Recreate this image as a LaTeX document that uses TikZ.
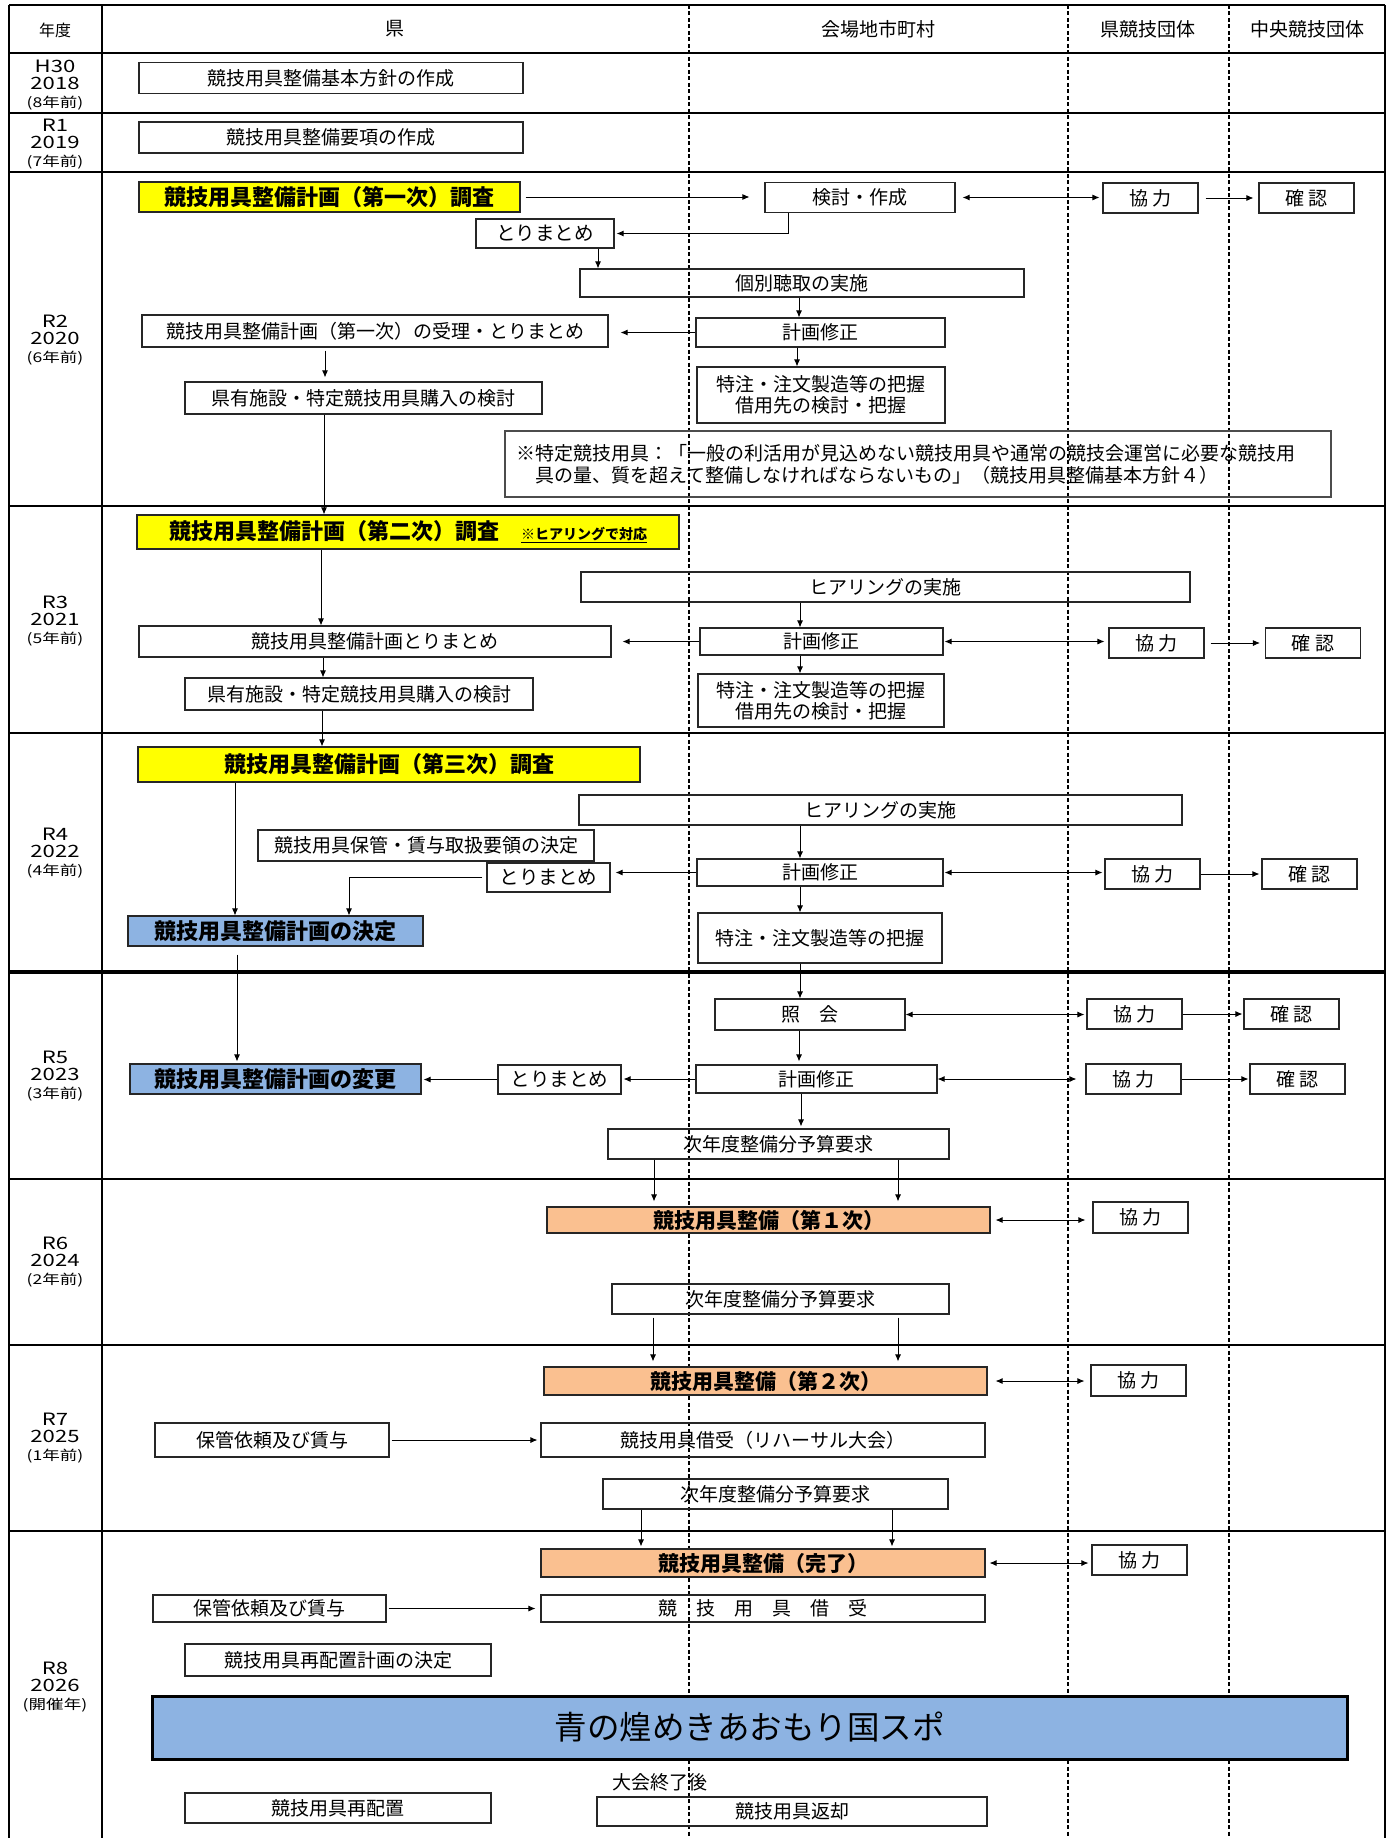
\documentclass[tikz,border=0pt]{standalone}
\usepackage{fontspec}
\setmainfont{Noto Sans CJK JP}
\usetikzlibrary{arrows.meta}
\definecolor{ylw}{HTML}{FFFF00}
\definecolor{blu}{HTML}{8DB3E2}
\definecolor{org}{HTML}{FAC090}
\newcommand\fN{\fontsize{19}{22}\selectfont}
\newcommand\fB{\fontsize{22}{26}\selectfont\bfseries}
\newcommand\fO{\fontsize{21}{25}\selectfont\bfseries}
\newcommand\fY{\fontsize{17}{17.5}\selectfont}
\newcommand\fP{\fontsize{13.5}{17.5}\selectfont}
\newcommand\yrlab[3]{\scalebox{1.3}[1]{\begin{tabular}{@{}c@{}}#1\\#2\\{\fP(#3)}\end{tabular}}}
\begin{document}
\begin{tikzpicture}[x=1pt,y=-1pt,
  box/.style={draw=black!85, line width=1.1pt, inner sep=0pt, font=\fN},
  ybox/.style={box, fill=ylw, font=\fB},
  bbox/.style={box, fill=blu, font=\fB},
  obox/.style={box, fill=org, font=\fO},
  yr/.style={font=\fY, inner sep=0pt},
  hd/.style={font=\fN, inner sep=0pt},
  frame/.style={line width=2.4pt},
  lane/.style={line width=1.3pt, dash pattern=on 4pt off 2.5pt},
  arr/.style={-{Latex[length=7pt,width=6pt]}, line width=0.9pt},
  darr/.style={{Latex[length=7pt,width=6pt]}-{Latex[length=7pt,width=6pt]}, line width=0.9pt},
  wh/.style 2 args={minimum width=#1, minimum height=#2}
]
\useasboundingbox (0,0) rectangle (1392,1838);
% grid
\foreach \xx in {689,1068,1229} \draw[lane] (\xx,5) -- (\xx,1838);
\foreach \yy/\lw in {5/2.4,53/2.4,113/2.4,172/2.4,506/2.4,733/2.4,972/3.4,1179/2.4,1345/2.4,1531/2.4}
  \draw[line width=\lw pt] (9,\yy) -- (1385,\yy);
\draw[frame] (9,5) -- (9,1838);
\draw[frame] (102,5) -- (102,1838);
\draw[frame] (1385,5) -- (1385,1838);
% headers
\node[hd, font=\fontsize{16}{18}\selectfont] (hy) at (55,30) {年度};
\node[hd] (hk) at (395,29) {県};
\node[hd] (hm) at (878,29) {会場地市町村};
\node[hd] (hp) at (1148,29) {県競技団体};
\node[hd] (hc) at (1307,29) {中央競技団体};
% year labels
\node[yr] (yr1) at (55,86) {\yrlab{H30}{2018}{8年前}};
\node[yr] (yr2) at (55,145) {\yrlab{R1}{2019}{7年前}};
\node[yr] (yr3) at (55,341) {\yrlab{R2}{2020}{6年前}};
\node[yr] (yr4) at (55,622) {\yrlab{R3}{2021}{5年前}};
\node[yr] (yr5) at (55,854) {\yrlab{R4}{2022}{4年前}};
\node[yr] (yr6) at (55,1077) {\yrlab{R5}{2023}{3年前}};
\node[yr] (yr7) at (55,1263) {\yrlab{R6}{2024}{2年前}};
\node[yr] (yr8) at (55,1439) {\yrlab{R7}{2025}{1年前}};
\node[yr] (yr9) at (55,1688) {\yrlab{R8}{2026}{開催年}};
% H30, R1
\node[box, wh={384pt}{31pt}] (n1) at (331,78) {競技用具整備基本方針の作成};
\node[box, wh={384pt}{31pt}] (n2) at (331,137.5) {競技用具整備要項の作成};
% R2
\node[ybox, wh={381pt}{30pt}] (y1) at (329.5,197) {競技用具整備計画（第一次）調査};
\node[box, wh={190pt}{30pt}] (k1) at (860,197.5) {検討・作成};
\node[box, wh={95pt}{30pt}] (kyo1) at (1150.5,198) {協 力};
\node[box, wh={95pt}{30pt}] (kak1) at (1306.5,198) {確 認};
\node[box, wh={138pt}{29pt}, font=\fontsize{19.5}{22}\selectfont] (tm1) at (545,233.5) {とりまとめ};
\node[box, wh={444pt}{28pt}] (kb) at (802,283) {個別聴取の実施};
\node[box, wh={466pt}{32pt}] (ju1) at (375,331) {競技用具整備計画（第一次）の受理・とりまとめ};
\node[box, wh={249pt}{29pt}] (ks1) at (820.5,332.5) {計画修正};
\node[box, wh={357pt}{32pt}] (ken1) at (363.5,398) {県有施設・特定競技用具購入の検討};
\node[box, wh={248pt}{56pt}, align=center, font=\fontsize{19}{21}\selectfont] (tc1) at (821,395) {特注・注文製造等の把握\\借用先の検討・把握};
\node[box, draw=black!70, wh={826pt}{66pt}, text width=804pt, align=left, font=\fontsize{19}{22}\selectfont] (note) at (918,464) {※特定競技用具：「一般の利活用が見込めない競技用具や通常の競技会運営に必要な競技用\\\hspace*{1em}具の量、質を超えて整備しなければならないもの」（競技用具整備基本方針４）};
% R3
\node[ybox, wh={542pt}{34pt}] (y2) at (408,532) {競技用具整備計画（第二次）調査\hspace{22pt}{\fontsize{14}{16}\selectfont\underline{※ヒアリングで対応}}};
\node[box, wh={609pt}{30pt}] (hr1) at (885.5,587) {ヒアリングの実施};
\node[box, wh={472pt}{31pt}] (tr2) at (375,641.5) {競技用具整備計画とりまとめ};
\node[box, wh={243pt}{27pt}] (ks2) at (821.5,641.5) {計画修正};
\node[box, wh={95pt}{30pt}] (kyo2) at (1156.5,643) {協 力};
\node[box, wh={95pt}{30pt}] (kak2) at (1313,643) {確 認};
\node[box, wh={348pt}{32pt}] (ken2) at (359,694) {県有施設・特定競技用具購入の検討};
\node[box, wh={246pt}{53pt}, align=center, font=\fontsize{19}{21}\selectfont] (tc2) at (821,700.5) {特注・注文製造等の把握\\借用先の検討・把握};
% R4
\node[ybox, wh={502pt}{35pt}] (y3) at (389,764.5) {競技用具整備計画（第三次）調査};
\node[box, wh={603pt}{30pt}] (hr2) at (880.5,810) {ヒアリングの実施};
\node[box, wh={336pt}{31pt}] (ho) at (426,845.5) {競技用具保管・賃与取扱要領の決定};
\node[box, wh={123pt}{29pt}, font=\fontsize{19.5}{22}\selectfont] (tm2) at (548.5,877.5) {とりまとめ};
\node[box, wh={246pt}{27pt}] (ks3) at (820,872.5) {計画修正};
\node[box, wh={95pt}{30pt}] (kyo3) at (1152.5,874) {協 力};
\node[box, wh={95pt}{30pt}] (kak3) at (1309.5,874) {確 認};
\node[box, wh={244pt}{50pt}] (tc3) at (820,938) {特注・注文製造等の把握};
\node[bbox, wh={295pt}{30pt}] (ke) at (275.5,931) {競技用具整備計画の決定};
% R5
\node[box, wh={190pt}{31pt}] (sh) at (810,1014.5) {照　会};
\node[box, wh={95pt}{30pt}] (kyo4) at (1134.5,1014) {協 力};
\node[box, wh={95pt}{30pt}] (kak4) at (1291.5,1014) {確 認};
\node[box, wh={241pt}{28pt}] (ks4) at (816.5,1079) {計画修正};
\node[box, wh={95pt}{30pt}] (kyo5) at (1133.5,1079) {協 力};
\node[box, wh={95pt}{30pt}] (kak5) at (1297.5,1079) {確 認};
\node[bbox, wh={291pt}{30pt}] (hen) at (275.5,1079) {競技用具整備計画の変更};
\node[box, wh={123pt}{29pt}, font=\fontsize{19.5}{22}\selectfont] (tm3) at (559.5,1079.5) {とりまとめ};
\node[box, wh={341pt}{30pt}] (yo1) at (778.5,1144) {次年度整備分予算要求};
% R6
\node[obox, wh={443pt}{26pt}] (or1) at (768.5,1220) {競技用具整備（第１次）};
\node[box, wh={95pt}{31pt}] (kyo6) at (1140.5,1217.5) {協 力};
\node[box, wh={337pt}{30pt}] (yo2) at (780.5,1299) {次年度整備分予算要求};
% R7
\node[obox, wh={443pt}{28pt}] (or2) at (765.5,1381) {競技用具整備（第２次）};
\node[box, wh={95pt}{31pt}] (kyo7) at (1138.5,1380.5) {協 力};
\node[box, wh={234pt}{34pt}] (hk1) at (272,1440) {保管依頼及び賃与};
\node[box, wh={444pt}{34pt}] (sk1) at (763,1440) {競技用具借受（リハーサル大会）};
\node[box, wh={345pt}{30pt}] (yo3) at (775.5,1494) {次年度整備分予算要求};
% R8
\node[obox, wh={444pt}{28pt}] (or3) at (763,1563) {競技用具整備（完了）};
\node[box, wh={95pt}{30pt}] (kyo8) at (1139.5,1560) {協 力};
\node[box, wh={233pt}{27pt}] (hk2) at (269.5,1608.5) {保管依頼及び賃与};
\node[box, wh={444pt}{27pt}] (sk2) at (763,1608.5) {競　技　用　具　借　受};
\node[box, wh={306pt}{32pt}] (sai1) at (338,1660) {競技用具再配置計画の決定};
\node[box, fill=blu, line width=3pt, draw=black, wh={1195pt}{63pt}, font=\fontsize{32.5}{36}\selectfont] (big) at (749.5,1727.5) {青の煌めきあおもり国スポ};
\node[hd] (lbl) at (660,1782) {大会終了後};
\node[box, wh={306pt}{30pt}] (sai2) at (338,1808) {競技用具再配置};
\node[box, wh={390pt}{29pt}] (hen2) at (792,1811.5) {競技用具返却};
% ---- connectors R2
\draw[arr, shorten <=5pt, shorten >=15pt] (y1.east) -- (y1.east -| k1.west);
\draw[darr, shorten <=7pt, shorten >=3pt] (k1.east) -- (k1.east -| kyo1.west);
\draw[arr, shorten <=7pt, shorten >=5pt] (kyo1.east) -- (kyo1.east -| kak1.west);
\draw[arr, shorten >=2pt] ([xshift=-72pt]k1.south) |- (tm1.east);
\draw[arr] ([xshift=53pt]tm1.south) -- ([xshift=-204pt]kb.north);
\draw[arr] ([xshift=-3pt]kb.south) -- ([xshift=-21.5pt]ks1.north);
\draw[arr, shorten >=12pt] (ks1.west) -- (ks1.west -| ju1.east);
\draw[arr, shorten <=3pt, shorten >=4pt] ([xshift=-50pt]ju1.south) -- ([xshift=-38.5pt]ken1.north);
\draw[arr] ([xshift=-23.5pt]ks1.south) -- ([xshift=-24pt]tc1.north);
\draw[arr] ([xshift=-39.5pt]ken1.south) -- ([xshift=-84pt]y2.north);
% ---- R3
\draw[arr] ([xshift=-87pt]y2.south) -- ([xshift=-54pt]tr2.north);
\draw[arr] ([xshift=-85.5pt]hr1.south) -- ([xshift=-21.5pt]ks2.north);
\draw[arr, shorten >=11pt] (ks2.west) -- (ks2.west -| tr2.east);
\draw[darr, shorten <=1pt, shorten >=4pt] (ks2.east) -- (ks2.east -| kyo2.west);
\draw[arr, shorten <=6pt, shorten >=5pt] (kyo2.east) -- (kyo2.east -| kak2.west);
\draw[arr] ([xshift=-21.5pt]ks2.south) -- ([xshift=-21pt]tc2.north);
\draw[arr] ([xshift=-52pt]tr2.south) -- ([xshift=-36pt]ken2.north);
\draw[arr] ([xshift=-37pt]ken2.south) -- ([xshift=-67pt]y3.north);
% ---- R4
\draw[arr] ([xshift=-154pt]y3.south) -- ([xshift=-40.5pt]ke.north);
\draw[arr] ([xshift=-80.5pt]hr2.south) -- ([xshift=-20pt]ks3.north);
\draw[arr, shorten >=5pt] (ks3.west) -- (ks3.west -| tm2.east);
\draw[arr, shorten <=4pt] (tm2.west) -| ([xshift=73.5pt]ke.north);
\draw[darr, shorten <=1pt, shorten >=2pt] (ks3.east) -- (ks3.east -| kyo3.west);
\draw[arr, shorten >=2pt] (kyo3.east) -- (kyo3.east -| kak3.west);
\draw[arr] ([xshift=-20pt]ks3.south) -- ([xshift=-20pt]tc3.north);
\draw[arr] ([xshift=-20pt]tc3.south) -- ([xshift=-10pt]sh.north);
\draw[arr, shorten <=8pt, shorten >=2pt] ([xshift=-38.5pt]ke.south) -- ([xshift=-38.5pt]hen.north);
% ---- R5
\draw[darr, shorten >=2pt] (sh.east) -- (sh.east -| kyo4.west);
\draw[arr, shorten >=1pt] (kyo4.east) -- (kyo4.east -| kak4.west);
\draw[arr, shorten >=3pt] ([xshift=-11pt]sh.south) -- ([xshift=-17.5pt]ks4.north);
\draw[darr, shorten >=9pt] (ks4.east) -- (ks4.east -| kyo5.west);
\draw[arr, shorten >=1pt] (kyo5.east) -- (kyo5.east -| kak5.west);
\draw[arr, shorten >=2pt] (ks4.west) -- (ks4.west -| tm3.east);
\draw[arr, shorten >=2pt] (tm3.west) -- (tm3.west -| hen.east);
\draw[arr, shorten >=2pt] ([xshift=-15.5pt]ks4.south) -- ([xshift=22.5pt]yo1.north);
\draw[arr, shorten >=5pt] ([xshift=-124.5pt]yo1.south) -- ([xshift=-114.5pt]or1.north);
\draw[arr, shorten >=5pt] ([xshift=119.5pt]yo1.south) -- ([xshift=129.5pt]or1.north);
% ---- R6
\draw[darr, shorten <=5pt, shorten >=7pt] (or1.east) -- (or1.east -| kyo6.west);
\draw[arr, shorten <=3pt, shorten >=5pt] ([xshift=-127.5pt]yo2.south) -- ([xshift=-112.5pt]or2.north);
\draw[arr, shorten <=3pt, shorten >=5pt] ([xshift=117.5pt]yo2.south) -- ([xshift=132.5pt]or2.north);
% ---- R7
\draw[darr, shorten <=8pt, shorten >=6pt] (or2.east) -- (or2.east -| kyo7.west);
\draw[arr, shorten <=2pt, shorten >=3pt] (hk1.east) -- (hk1.east -| sk1.west);
\draw[arr, shorten >=2pt] ([xshift=-134.5pt]yo3.south) -- ([xshift=-122pt]or3.north);
\draw[arr, shorten >=2pt] ([xshift=116.5pt]yo3.south) -- ([xshift=129pt]or3.north);
% ---- R8
\draw[darr, shorten <=4pt, shorten >=3pt] (or3.east) -- (or3.east -| kyo8.west);
\draw[arr, shorten <=2pt, shorten >=5pt] (hk2.east) -- (hk2.east -| sk2.west);
\end{tikzpicture}
\end{document}
